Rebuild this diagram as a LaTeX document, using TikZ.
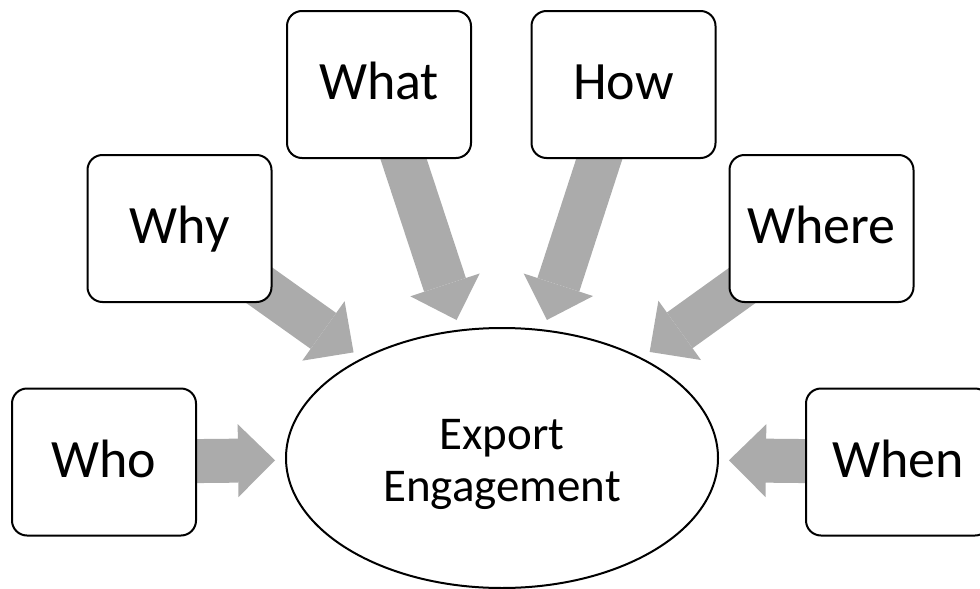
\documentclass[tikz,border=0pt]{standalone}
\usepackage{fontspec}
\setmainfont{Carlito}
\usetikzlibrary{arrows.meta,shapes.geometric}
\pgfdeclarelayer{background}
\pgfsetlayers{background,main}
\definecolor{arrowgray}{RGB}{171,171,171}
\tikzset{
  qbox/.style={draw=black, line width=2pt, fill=white, rounded corners=15pt,
    minimum width=184pt, minimum height=147pt, inner sep=0pt, outer sep=0pt,
    text height=36pt, text depth=6pt, font=\fontsize{54}{60}\selectfont},
  hub/.style={ellipse, draw=black, line width=2pt, fill=white,
    minimum width=432pt, minimum height=260pt, inner sep=0pt, outer sep=0pt},
  hublabel/.style={align=center, inner sep=0pt, font=\fontsize{47}{52}\selectfont},
  bigarrow/.style={draw=arrowgray, line width=44pt,
    -{Triangle[length=37pt,width=73pt,line width=0pt,fill=arrowgray]},
    shorten >=11pt}
}
\begin{document}
\begin{tikzpicture}[x=1pt,y=-1pt]
\useasboundingbox (0,0) rectangle (980,589);

% central ellipse
\node[hub] (hub) at (502,458) {};
\node[hublabel] (hubtext) at ([yshift=-6pt]hub.center) {Export\\Engagement};

% question boxes
\node[qbox] (who)   at (104,462)   {Who};
\node[qbox] (why)   at (179.5,228.5) {Why};
\node[qbox] (what)  at (379,84.5)  {What};
\node[qbox] (how)   at (623.5,84.5) {How};
\node[qbox] (where) at (821.5,228.5) {Where};
\node[qbox] (when)  at (898,462)   {When};

% block arrows pointing into the ellipse, behind the boxes
\begin{pgfonlayer}{background}
  \foreach \n in {who,why,what,how,where,when}
    \draw[bigarrow] (\n.center) -- (hub);
\end{pgfonlayer}
\end{tikzpicture}
\end{document}
